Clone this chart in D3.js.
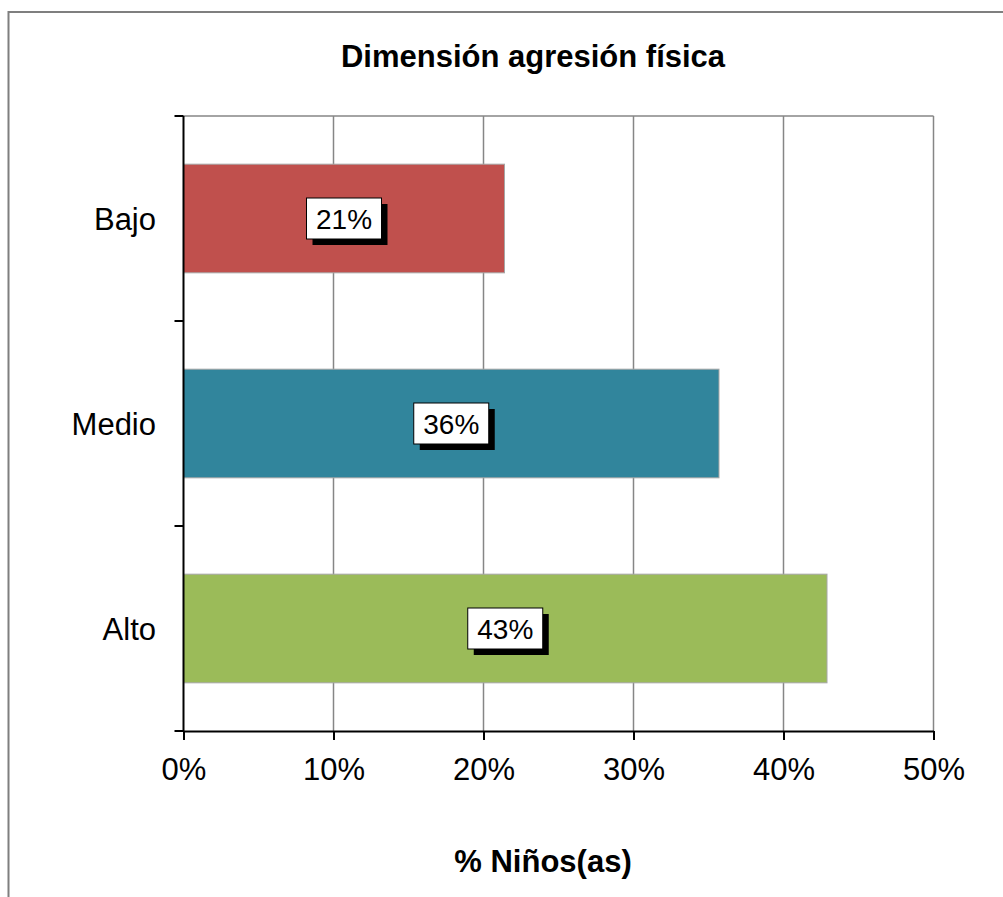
<!DOCTYPE html>
<html>
<head>
<meta charset="utf-8">
<script src="https://cdn.jsdelivr.net/npm/d3@7"></script>
<style>
  html, body { margin: 0; padding: 0; background: #fff; }
  svg { display: block; }
  text { font-family: "Liberation Sans", Arial, sans-serif; fill: #000; }
</style>
</head>
<body>
<svg id="chart" width="1003" height="897"></svg>
<script>
const categories = ["Bajo", "Medio", "Alto"];
const values = [0.214, 0.357, 0.429];
const colors = ["#C0504D", "#31859C", "#9BBB59"];
const xTicks = [0, 0.1, 0.2, 0.3, 0.4, 0.5];
const title = "Dimensión agresión física";
const xTitle = "% Niños(as)";

(function () {
const svg = d3.select("#chart");
const pL = 183.5, pR = 933.5, pT = 116, pB = 731;

// outer border (chart area extends beyond the picture)
svg.append("rect")
  .attr("x", 8.5).attr("y", 12)
  .attr("width", 1100).attr("height", 1000)
  .attr("fill", "#fff").attr("stroke", "#7f7f7f").attr("stroke-width", 2);

const x = d3.scaleLinear().domain([0, 0.5]).range([pL, pR]);
const y = d3.scaleBand().domain(categories).range([pT, pB])
  .paddingInner(0.47).paddingOuter(0.235);
const yb = d3.scaleBand().domain(categories).range([pT, pB]).padding(0);

// gridlines
svg.append("g").selectAll("line").data(xTicks.slice(1)).join("line")
  .attr("x1", d => x(d)).attr("x2", d => x(d))
  .attr("y1", pT).attr("y2", pB)
  .attr("stroke", "#868686").attr("stroke-width", 1.5);
svg.append("line")
  .attr("x1", pL).attr("x2", pR).attr("y1", pT).attr("y2", pT)
  .attr("stroke", "#868686").attr("stroke-width", 1.5);

// bars
svg.append("g").selectAll("rect").data(categories).join("rect")
  .attr("x", x(0))
  .attr("y", d => y(d))
  .attr("width", (d, i) => x(values[i]) - x(0))
  .attr("height", y.bandwidth())
  .attr("fill", (d, i) => colors[i])
  .attr("stroke", "#a6a6a6").attr("stroke-width", 1);

// x axis
const xAxis = svg.append("g").attr("transform", `translate(0,${pB})`)
  .call(d3.axisBottom(x).tickValues(xTicks).tickFormat(d3.format(".0%")).tickSizeInner(9).tickSizeOuter(0).tickPadding(18));
xAxis.select(".domain").attr("stroke", "#000").attr("stroke-width", 2);
xAxis.selectAll(".tick line").attr("stroke", "#000").attr("stroke-width", 2);
xAxis.selectAll(".tick text").attr("font-size", 31).attr("font-family", "Liberation Sans, Arial, sans-serif").attr("fill", "#000").attr("dy", "0.71em");

// y axis: ticks at category boundaries
const yAxisG = svg.append("g");
yAxisG.append("line").attr("x1", pL).attr("x2", pL).attr("y1", pT).attr("y2", pB)
  .attr("stroke", "#000").attr("stroke-width", 2);
const boundaries = categories.map(c => yb(c)).concat([pB]);
yAxisG.selectAll("line.tk").data(boundaries).join("line").attr("class", "tk")
  .attr("x1", pL - 9).attr("x2", pL).attr("y1", d => d).attr("y2", d => d)
  .attr("stroke", "#000").attr("stroke-width", 2);
yAxisG.selectAll("text").data(categories).join("text")
  .attr("x", 156).attr("y", d => yb(d) + yb.bandwidth() / 2 + 11.5)
  .attr("text-anchor", "end").attr("font-size", 31).text(d => d);

// data labels
const lab = svg.append("g").selectAll("g").data(categories).join("g")
  .attr("transform", (d, i) => `translate(${(x(0) + x(values[i])) / 2},${y(d) + y.bandwidth() / 2})`);
const bw = 75, bh = 41;
lab.append("rect").attr("x", -bw / 2 + 6).attr("y", -bh / 2 + 6).attr("width", bw).attr("height", bh).attr("fill", "#000");
lab.append("rect").attr("x", -bw / 2).attr("y", -bh / 2).attr("width", bw).attr("height", bh)
  .attr("fill", "#fff").attr("stroke", "#000").attr("stroke-width", 1);
lab.append("text").attr("text-anchor", "middle").attr("y", 10.5).attr("font-size", 28)
  .text((d, i) => d3.format(".0%")(values[i]));

// titles
svg.append("text").attr("x", 533).attr("y", 67).attr("text-anchor", "middle")
  .attr("font-size", 31).attr("font-weight", "bold").text(title);
svg.append("text").attr("x", 543).attr("y", 872).attr("text-anchor", "middle")
  .attr("font-size", 31).attr("font-weight", "bold").text(xTitle);
})();
</script>
</body>
</html>
